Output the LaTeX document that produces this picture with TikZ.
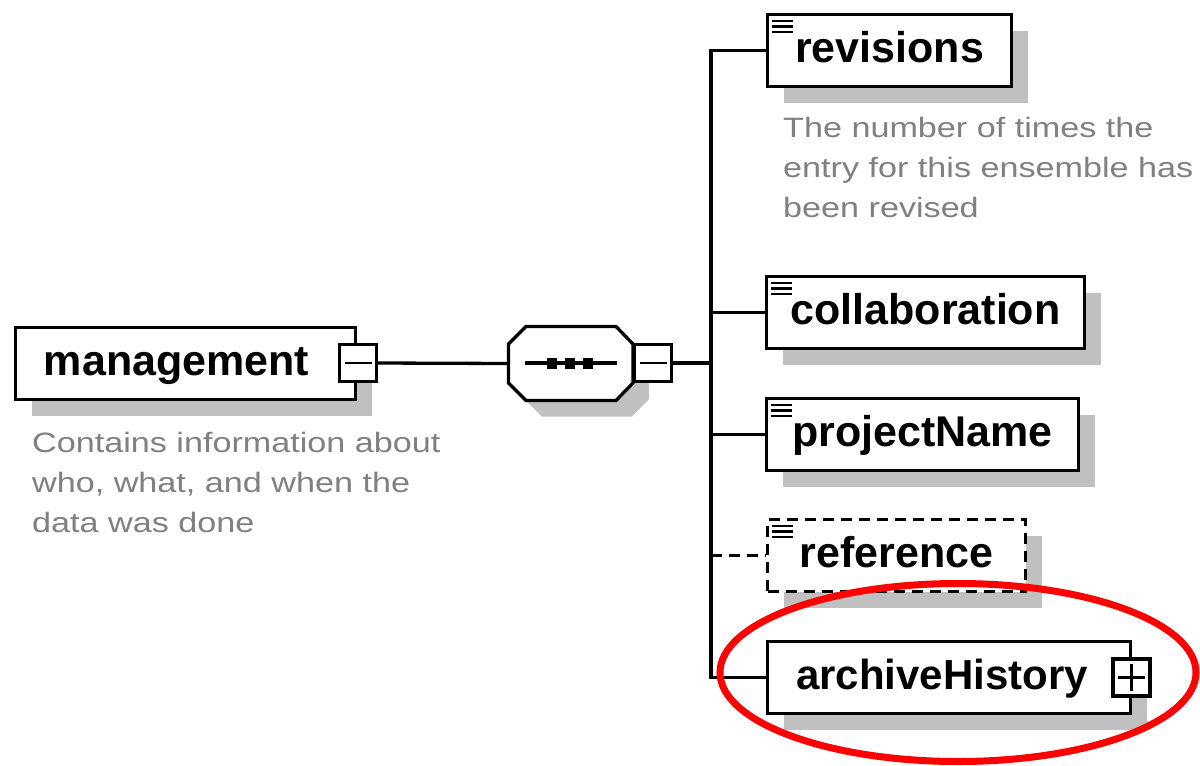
\documentclass[tikz,border=0pt]{standalone}
\usepackage{fontspec}
\setmainfont{Liberation Sans}
\newfontfamily\notefont[FakeStretch=1.22]{Liberation Sans}
\usetikzlibrary{shadows,shapes.geometric,calc}

\definecolor{shadowgray}{HTML}{C0C0C0}
\definecolor{notegray}{HTML}{808080}
\definecolor{ringred}{HTML}{FF0000}

\tikzset{
  outline/.style={draw=black, line width=3.3pt},
  shadowed/.style={drop shadow={shadow xshift=16pt, shadow yshift=-16pt, fill=shadowgray, opacity=1}},
  elembox/.style={outline, fill=white, shadowed, inner sep=0pt,
    minimum height=72pt, text height=31pt, text depth=7pt,
    font=\fontsize{43}{48}\selectfont\bfseries},
  optional/.style={dash pattern=on 11pt off 7pt},
  leaf/.style={path picture={
      \foreach \dy in {6.5,12,17.5}
        \draw[line width=2.8pt, solid] ([xshift=4.5pt,yshift=-\dy pt]path picture bounding box.north west) -- ++(21pt,0);}},
  togglebox/.style={outline, fill=white, inner sep=0pt, minimum size=37pt},
  minusbox/.style={togglebox, path picture={
      \draw[line width=2.8pt] ([xshift=5pt]path picture bounding box.west) -- ([xshift=-5pt]path picture bounding box.east);}},
  plusbox/.style={togglebox, path picture={
      \draw[line width=2.8pt] ([xshift=5pt]path picture bounding box.west) -- ([xshift=-5pt]path picture bounding box.east);
      \draw[line width=2.8pt] ([yshift=-5pt]path picture bounding box.north) -- ([yshift=5pt]path picture bounding box.south);}},
  note/.style={inner sep=0pt, anchor=base west, align=left, text=notegray,
    font=\notefont\fontsize{28}{40}\selectfont},
  wire/.style={line width=3.3pt},
}

\begin{document}
\begin{tikzpicture}[x=1pt, y=-1pt]
  \useasboundingbox[fill=white] (0,0) rectangle (1200,766);

  % sequence compositor: shadow first, then connectors, then the shape itself
  \fill[shadowgray] (524.5,360) -- (542,342.5) -- (632,342.5) -- (649,360) -- (649,399)
               -- (632,416.5) -- (542,416.5) -- (524.5,399) -- cycle;
  \node[inner sep=0pt, minimum width=125pt, minimum height=74pt] (seq) at (571,363.5) {};
  \coordinate (trunk) at (711,363);

  % root element (text kept clear of the toggle on its right)
  \node[elembox, minimum width=340pt] (management) at (185.5,363.5) {management\kern18pt};
  \node[minusbox] (mgmttoggle) at (358,363) {};
  \node[note] (mgmtnote) at (32,532) {Contains information about\\who, what, and when the\\data was done};

  % child elements
  \node[elembox, leaf, minimum width=244pt] (revisions) at (889.5,50.5) {revisions};
  \node[note] (revnote) at (783,217) {The number of times the\\entry for this ensemble has\\been revised};
  \node[elembox, leaf, minimum width=318pt] (collaboration) at (925.5,312.5) {collaboration};
  \node[elembox, leaf, minimum width=312pt] (projectname) at (922.5,434.5) {projectName};
  \node[elembox, leaf, optional, minimum width=258pt] (reference) at (896.5,555.5) {reference};
  \node[elembox, minimum width=363pt] (archive) at (949,677.5) {\fontsize{42}{48}\selectfont archiveHistory\kern14pt};
  \node[plusbox] (archivetoggle) at (1131.5,677.5) {};

  % connectors
  \draw[wire] (mgmttoggle.east) -- (seq.west);
  \draw[outline, fill=white, line join=miter]
      (508.5,344) -- (526,326.5) -- (616,326.5) -- (633,344) -- (633,383)
      -- (616,400.5) -- (526,400.5) -- (508.5,383) -- cycle;
  \draw[wire] (525,363) -- (617,363);
  \foreach \cx in {552,570,588}
    \fill (\cx-5,357.5) rectangle (\cx+5,368.5);
  \node[minusbox] (seqtoggle) at (653,363) {};
  \draw[wire] (seqtoggle.east) -- (trunk);
  \draw[wire] (revisions.west) -| (trunk |- archive.west) -- (archive.west);
  \draw[wire] (trunk |- collaboration.west) -- (collaboration.west);
  \draw[wire] (trunk |- projectname.west) -- (projectname.west);
  \draw[wire, optional] (trunk |- reference.west) -- (reference.west);

  % highlight ring
  \node[draw=ringred, line width=7pt, ellipse, minimum width=476pt, minimum height=178pt] (ring) at (958,672.5) {};
\end{tikzpicture}
\end{document}
